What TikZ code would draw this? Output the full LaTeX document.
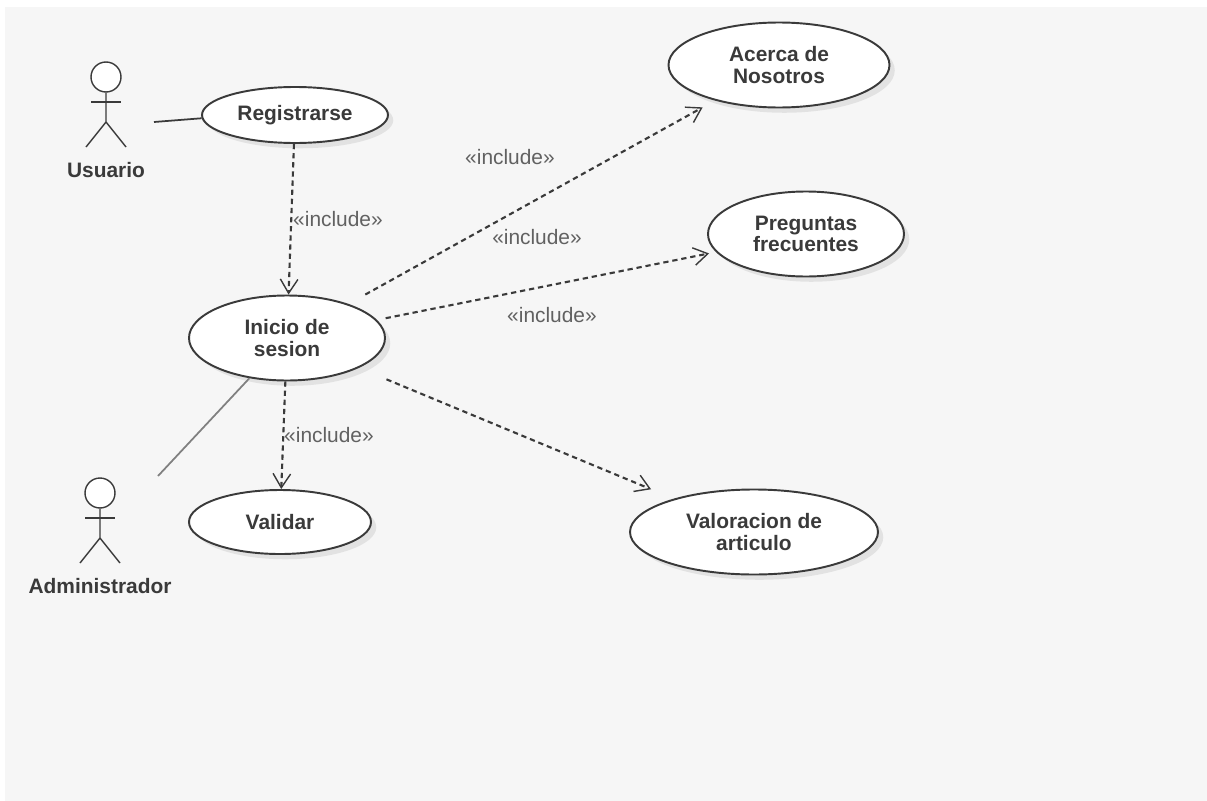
\documentclass[tikz,border=0pt]{standalone}
\usepackage{fontspec}
\setmainfont{Liberation Sans}
\usepackage{tikz}
\usetikzlibrary{shapes.geometric, shadows, arrows.meta}

\definecolor{fondo}{HTML}{F6F6F6}
\definecolor{tinta}{HTML}{3A3A3A}
\tikzset{
  caso/.style={ellipse, draw=tinta, line width=1.1pt, fill=white, inner sep=0pt, align=center,
    text=tinta, font=\fontsize{11.9}{12}\selectfont\bfseries,
    drop shadow={shadow xshift=3pt, shadow yshift=-3pt, fill=black, opacity=0.08}},
  actor/.style={draw=tinta, line width=0.8pt},
  etiqueta/.style={text=tinta, font=\fontsize{11.9}{12}\selectfont\bfseries},
  incluye/.style={text=black!62, font=\fontsize{11.9}{12}\selectfont},
  depende/.style={draw=tinta, line width=1.2pt, dash pattern=on 3pt off 2.2pt,
    -{Straight Barb[length=8pt,width=10pt,line width=0.8pt]}},
  enlace/.style={draw=tinta, line width=1pt}
}

\begin{document}
\begin{tikzpicture}[x=0.02cm, y=-0.02cm]
    \useasboundingbox (0,0) rectangle (1207,801);
    % Background
    \fill[fondo] (5,7) rectangle (1207,801);

    % Use cases
    \foreach \nombre/\x/\y/\ancho/\alto/\texto in {
      Registrarse/295/115/186/56/{Registrarse},
      Inicio/287/338/196/85/{Inicio de\\sesion},
      Validar/280/522/182/64/{Validar},
      Acerca/779/65/221/85/{Acerca de\\Nosotros},
      Preguntas/806/234/196/85/{Preguntas\\frecuentes},
      Valoracion/754/532/248/85/{Valoracion de\\articulo}} {
      \node[caso, minimum width=\ancho*0.02cm, minimum height=\alto*0.02cm] (\nombre) at (\x,\y) {\texto};
    }

    % Actors
    \foreach \nombre/\x/\y/\texto in {usuario/106/77/Usuario, admin/100/493/Administrador} {
      \begin{scope}[shift={(\x,\y)}]
        \node[actor, circle, fill=white, minimum size=0.6cm, inner sep=0pt] (\nombre) at (0,0) {};
        \draw[actor] (\nombre.south) -- (0,45) -- (-20,70);
        \draw[actor] (0,45) -- (20,70);
        \draw[actor] (-15,25) -- (15,25);
        \node[etiqueta] (\nombre Texto) at (0,93) {\texto};
      \end{scope}
    }

    % Associations
    \coordinate (usuarioFin) at (154,122);
    \coordinate (adminFin) at (158,476);
    \draw[enlace] (usuarioFin) -- (Registrarse.182);
    \draw[enlace, draw=black!50] (adminFin) -- (Inicio);

    % Include relations
    \draw[depende] (Registrarse) -- (Inicio);
    \draw[depende] (Inicio) -- (Validar);
    \draw[depende, shorten <=11pt, shorten >=8pt] (Inicio) -- (Acerca);
    \draw[depende, shorten <=5pt, shorten >=4pt] (Inicio) -- (Preguntas);
    \draw[depende, shorten <=17pt, shorten >=14pt] (Inicio) -- (Valoracion);

    % Labels
    \foreach \i/\x/\y in {1/510/157, 2/537/237, 3/552/315, 4/338/219, 5/329/435} {
      \node[incluye] (incluye\i) at (\x,\y) {«include»};
    }
\end{tikzpicture}
\end{document}
